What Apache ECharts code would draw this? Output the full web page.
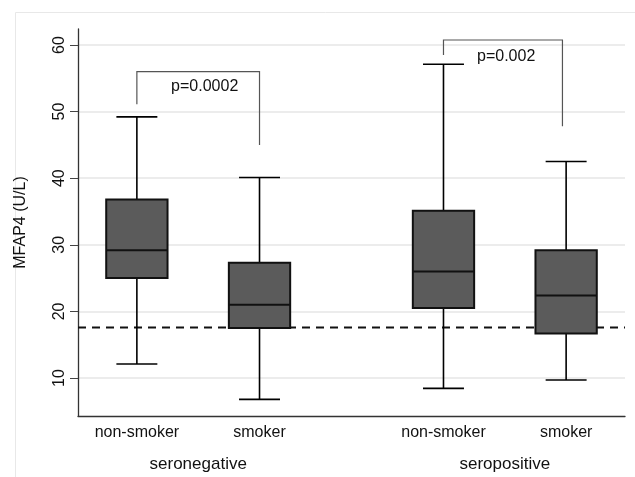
<!DOCTYPE html>
<html>
<head>
<meta charset="utf-8">
<script src="https://cdn.jsdelivr.net/npm/echarts@6/dist/echarts.min.js"></script>
<style>
html,body{margin:0;padding:0;background:#fff;}
#chart{width:635px;height:477px;}
</style>
</head>
<body>
<div id="chart"></div>
<script>
// ---- data ----
const categories = ['non-smoker', 'smoker', 'non-smoker', 'smoker'];
const positions = [1, 2, 3.5, 4.5];
const groups = ['seronegative', 'seropositive'];
const groupPositions = [1.5, 4];
const whiskerLow = [12.1, 6.8, 8.45, 9.7];
const q1 = [25.0, 17.5, 20.5, 16.7];
const median = [29.2, 21.0, 26.0, 22.4];
const q3 = [36.8, 27.3, 35.1, 29.2];
const whiskerHigh = [49.2, 40.1, 57.1, 42.5];
const refLine = 17.6;
const yTicks = [10, 20, 30, 40, 50, 60];
const bracketLeftX = [1, 3.5];
const bracketRightX = [2, 4.47];
const bracketTop = [56.0, 60.75];
const bracketLeftBottom = [51.1, 58.5];
const bracketRightBottom = [45.0, 47.8];
const pLabels = ['p=0.0002', 'p=0.002'];
const pLabelX = [1.553, 4.011];
const pLabelY = [53.8, 58.3];

// ---- chart ----
const FONT = '"Liberation Sans", Arial, Helvetica, sans-serif';
const chart = echarts.init(document.getElementById('chart'), null, {renderer: 'canvas'});

const boxData = positions.map((p, i) => [p, whiskerLow[i], q1[i], median[i], q3[i], whiskerHigh[i]]);
const bracketData = bracketLeftX.map((x, i) => [x, bracketRightX[i], bracketTop[i], bracketLeftBottom[i], bracketRightBottom[i]]);
const pData = pLabels.map((t, i) => [pLabelX[i], pLabelY[i], t]);

const BOX_HALF = 0.25;
const CAP_HALF = 0.167;

const option = {
  animation: false,
  backgroundColor: '#fff',
  textStyle: {fontFamily: FONT},
  graphic: [{
    type: 'rect', silent: true, z: -10,
    shape: {x: 15.5, y: 12.5, width: 700, height: 600},
    style: {fill: 'none', stroke: '#e8e8e8', lineWidth: 1}
  }],
  grid: {left: 78, right: 10, top: 29, bottom: 61, containLabel: false},
  xAxis: [{
    type: 'value', min: 0.52, max: 4.98, position: 'bottom', z: 5,
    axisLine: {show: true, onZero: false, lineStyle: {color: '#333', width: 1.3}},
    axisTick: {show: false},
    splitLine: {show: false},
    axisLabel: {
      show: true, customValues: positions, margin: 9,
      fontSize: 16, color: '#111', fontFamily: FONT,
      formatter: function (v) { const i = positions.indexOf(v); return i >= 0 ? categories[i] : ''; }
    }
  }, {
    type: 'value', min: 0.52, max: 4.98, position: 'bottom',
    axisLine: {show: false}, axisTick: {show: false}, splitLine: {show: false},
    axisLabel: {
      show: true, customValues: groupPositions, margin: 40,
      fontSize: 17, color: '#111', fontFamily: FONT,
      formatter: function (v) { const i = groupPositions.indexOf(v); return i >= 0 ? groups[i] : ''; }
    }
  }],
  yAxis: {
    type: 'value', min: 4.3, max: 62.4,
    name: 'MFAP4 (U/L)', nameLocation: 'middle', nameRotate: 90, nameGap: 49,
    nameTextStyle: {fontSize: 16, color: '#111', fontFamily: FONT},
    axisLine: {show: true, lineStyle: {color: '#333', width: 1.3}},
    axisTick: {show: true, customValues: yTicks, length: 8, lineStyle: {color: '#444', width: 1}},
    axisLabel: {show: true, customValues: yTicks, rotate: 90, margin: 10, fontSize: 16, color: '#111', fontFamily: FONT},
    splitLine: {show: true, lineStyle: {color: '#e6e6e6', width: 1.5}}
  },
  series: [{
    type: 'line', xAxisIndex: 0,
    data: [[0.52, refLine], [4.98, refLine]],
    symbol: 'none', silent: true, z: 1,
    lineStyle: {color: '#111', width: 2, type: [8, 6]}
  }, {
    type: 'custom', xAxisIndex: 0, z: 2,
    data: boxData,
    renderItem: function (params, api) {
      const x = api.value(0), lo = api.value(1), a = api.value(2), m = api.value(3), b = api.value(4), hi = api.value(5);
      const tl = api.coord([x - BOX_HALF, b]);
      const br = api.coord([x + BOX_HALF, a]);
      const cHi = api.coord([x, hi]), cLo = api.coord([x, lo]);
      const cTop = api.coord([x, b]), cBot = api.coord([x, a]);
      const capL = api.coord([x - CAP_HALF, hi])[0], capR = api.coord([x + CAP_HALF, hi])[0];
      const mL = api.coord([x - BOX_HALF, m]), mR = api.coord([x + BOX_HALF, m]);
      const ls = {stroke: '#000', lineWidth: 1.6, fill: 'none'};
      return {
        type: 'group',
        children: [
          {type: 'line', shape: {x1: cHi[0], y1: cHi[1], x2: cTop[0], y2: cTop[1]}, style: ls},
          {type: 'line', shape: {x1: cLo[0], y1: cLo[1], x2: cBot[0], y2: cBot[1]}, style: ls},
          {type: 'line', shape: {x1: capL, y1: cHi[1], x2: capR, y2: cHi[1]}, style: ls},
          {type: 'line', shape: {x1: capL, y1: cLo[1], x2: capR, y2: cLo[1]}, style: ls},
          {type: 'rect', shape: {x: tl[0], y: tl[1], width: br[0] - tl[0], height: br[1] - tl[1]},
            style: {fill: '#5b5b5b', stroke: '#111', lineWidth: 2}},
          {type: 'line', shape: {x1: mL[0], y1: mL[1], x2: mR[0], y2: mR[1]}, style: {stroke: '#111', lineWidth: 2}}
        ]
      };
    }
  }, {
    type: 'custom', xAxisIndex: 0, z: 3,
    data: bracketData,
    renderItem: function (params, api) {
      const xl = api.value(0), xr = api.value(1), top = api.value(2), lb = api.value(3), rb = api.value(4);
      const p1 = api.coord([xl, lb]), p2 = api.coord([xl, top]), p3 = api.coord([xr, top]), p4 = api.coord([xr, rb]);
      return {
        type: 'polyline',
        shape: {points: [p1, p2, p3, p4]},
        style: {stroke: '#555', lineWidth: 1.2, fill: 'none'}
      };
    }
  }, {
    type: 'custom', xAxisIndex: 0, z: 4,
    data: pData,
    renderItem: function (params, api) {
      const c = api.coord([api.value(0), api.value(1)]);
      return {
        type: 'text',
        style: {x: c[0], y: c[1], text: pData[params.dataIndex][2], fill: '#111',
          font: '16px ' + FONT, align: 'center', verticalAlign: 'middle'}
      };
    }
  }]
};
chart.setOption(option);
</script>
</body>
</html>
